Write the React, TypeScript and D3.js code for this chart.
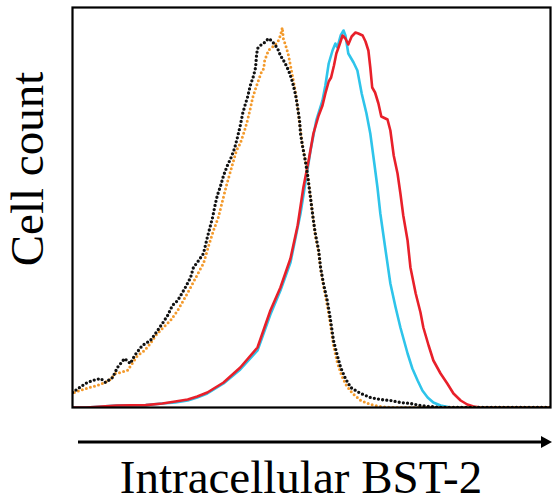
import React from "react";
import * as d3 from "d3";

// Fluorescence channel (0-1000) vs. relative cell count (% of max)
const cyanSeries: [number, number][] = [
  [0, 0], [29, 0], [61, 0.25], [92, 0.5], [153, 0.6], [188, 1], [215, 1.25], [241, 1.75],
  [261, 2.5], [282, 3.5], [299, 4.75], [316, 6], [351, 9.5],
  [387, 14.25], [414, 23.25], [435, 29.25], [456, 36.25], [477, 48.5], [498, 64.25],
  [510, 71.75], [523, 76.75], [529, 80.5], [536, 86], [544, 89.25], [550, 91], [554, 90],
  [561, 93], [567, 94.25], [571, 93], [577, 88.5], [588, 86.25], [596, 84.25], [605, 78.5],
  [615, 73.5], [623, 68.5], [632, 60.5], [638, 55], [644, 48.5], [655, 39.25], [665, 31],
  [676, 25], [686, 20], [701, 13.5], [711, 9.75], [722, 6.75], [732, 4.25], [743, 2.5],
  [755, 1.25], [770, 0.5], [791, 0], [1000, 0],
];

const redSeries: [number, number][] = [
  [0, 0], [29, 0], [61, 0.25], [92, 0.5], [153, 0.6], [188, 1], [215, 1.5], [241, 2],
  [261, 2.75], [282, 3.75], [299, 5], [316, 6.25], [351, 10],
  [387, 15], [414, 24.25], [435, 30], [456, 37.25], [471, 45.5], [483, 55], [494, 61.75],
  [504, 68.5], [515, 73], [523, 75.5], [529, 78.5], [536, 81.5], [541, 82.5], [547, 85.5],
  [552, 88.5], [558, 90.5], [565, 93], [571, 92.25], [577, 90.75], [584, 92.75], [592, 93.75],
  [598, 93.5], [607, 93], [613, 91.5], [619, 89.25], [623, 85], [627, 80], [633, 78.75],
  [640, 76], [646, 72.75], [659, 72], [665, 69.25], [672, 63], [680, 58.5], [686, 53.5],
  [692, 48], [701, 41.75], [707, 35], [718, 28.5], [728, 23.75], [734, 20], [745, 15.5],
  [755, 11.75], [770, 8.5], [784, 6], [797, 3.5], [812, 1.75], [826, 0.75], [839, 0.25],
  [854, 0], [1000, 0],
];

const blackSeries: [number, number][] = [
  [0, 3.75], [27, 6], [42, 6.75], [59, 7.25], [69, 6.25], [84, 7.5], [94, 10], [109, 12.25],
  [121, 11], [130, 13], [146, 15.5], [163, 16.75], [178, 19.25], [188, 21], [199, 23],
  [209, 25.5], [220, 26.75], [230, 28.75], [236, 30], [247, 32.5], [253, 35], [264, 36.75],
  [274, 38.5], [282, 42.5], [293, 47.5], [299, 51], [303, 53], [310, 55.5], [316, 58],
  [324, 60.5], [331, 62.25], [339, 64.75], [345, 67.5], [351, 70.5], [356, 73.5], [362, 76],
  [366, 77.5], [372, 80.5], [379, 83], [383, 85], [385, 88], [387, 89.75], [393, 90.5],
  [402, 91.25], [410, 92.25], [416, 91.75], [423, 90.75], [429, 89.75], [435, 88], [444, 86.25],
  [452, 84.25], [458, 82.25], [462, 80.5], [467, 78], [471, 75], [475, 71.75], [477, 68.5],
  [481, 65.5], [487, 61.75], [492, 58], [496, 54.25], [500, 50.5], [504, 46.75], [508, 43.5],
  [515, 39.25], [519, 35], [525, 31], [533, 26.75], [540, 21.75], [546, 16.75], [554, 13],
  [561, 10], [571, 7.25], [582, 5], [603, 3.5], [623, 2.5], [644, 2], [665, 1.75], [686, 1.25],
  [707, 1], [728, 0.5], [749, 0.25], [770, 0], [1000, 0],
];

const orangeSeries: [number, number][] = [
  [4, 3.75], [15, 4.25], [36, 5], [52, 5.5], [77, 6.75], [90, 8.5], [100, 8.75], [115, 9.25],
  [136, 13], [151, 14.25], [163, 16], [174, 18], [188, 19.75], [205, 21.75], [220, 24.25],
  [232, 26.75], [247, 30], [257, 32.25], [268, 34.75], [274, 36], [285, 40.5], [295, 44.25],
  [305, 47.5], [314, 51.75], [322, 55.5], [331, 59.25], [337, 61.75], [343, 64.25], [351, 66],
  [360, 69.25], [366, 71.75], [372, 74.75], [377, 77.5], [383, 79.75], [389, 81.75],
  [395, 83.75], [400, 84.75], [402, 86.75], [406, 88], [410, 89.25], [414, 89.75], [423, 90.5],
  [431, 91.75], [435, 93], [439, 95], [441, 92.25], [446, 90.5], [452, 88], [458, 84.25],
  [464, 80.5], [469, 76.75], [473, 73], [477, 69.25], [481, 65.5], [487, 61.75], [492, 58],
  [496, 54.25], [500, 50.5], [504, 46.75], [508, 43], [515, 38.75], [519, 34.75], [525, 30.5],
  [533, 25.5], [540, 20.5], [546, 15.5], [554, 11.25], [563, 8], [573, 5.5], [586, 3.5],
  [603, 1.75], [623, 0.75], [644, 0.25], [665, 0], [1000, 0],
];

const yLabel = "Cell count";
const xLabel = "Intracellular BST-2";

export default function App() {
  const left = 72.5, top = 7.5, width = 478, height = 400;
  const x = d3.scaleLinear().domain([0, 1000]).range([left, left + width]);
  const y = d3.scaleLinear().domain([0, 100]).range([top + height, top]);
  const line = d3.line<[number, number]>().x((d) => x(d[0])).y((d) => y(d[1]));
  const font = "'Liberation Serif', 'Times New Roman', serif";

  return (
    <svg width={552} height={502} style={{ position: "absolute", left: 0, top: 0 }}>
      <defs>
        <clipPath id="plot">
          <rect x={left} y={top - 10} width={width} height={height + 10} />
        </clipPath>
      </defs>
      <rect x={0} y={0} width={552} height={502} fill="#fff" />
      <g clipPath="url(#plot)" fill="none">
        <path d={line(cyanSeries) || ""} stroke="#2ec4ea" strokeWidth={2.6} strokeLinejoin="round" />
        <path d={line(redSeries) || ""} stroke="#e8202a" strokeWidth={2.6} strokeLinejoin="round" />
        <path d={line(orangeSeries) || ""} stroke="#f39a2c" strokeWidth={3} strokeDasharray="0 4.2" strokeLinecap="round" />
        <path d={line(blackSeries) || ""} stroke="#111" strokeWidth={3.3} strokeDasharray="0 4.2" strokeLinecap="round" />
      </g>
      <rect x={left} y={top} width={width} height={height} fill="none" stroke="#000" strokeWidth={2.2} />
      <line x1={78} y1={442} x2={543} y2={442} stroke="#000" strokeWidth={2.8} />
      <path d="M541,436 L552,442 L541,448 Z" fill="#000" />
      <text x={301} y={493} textAnchor="middle" fontFamily={font} fontSize={47} fill="#000">
        {xLabel}
      </text>
      <text transform="translate(43,169) rotate(-90)" textAnchor="middle" fontFamily={font} fontSize={47} fill="#000">
        {yLabel}
      </text>
    </svg>
  );
}
